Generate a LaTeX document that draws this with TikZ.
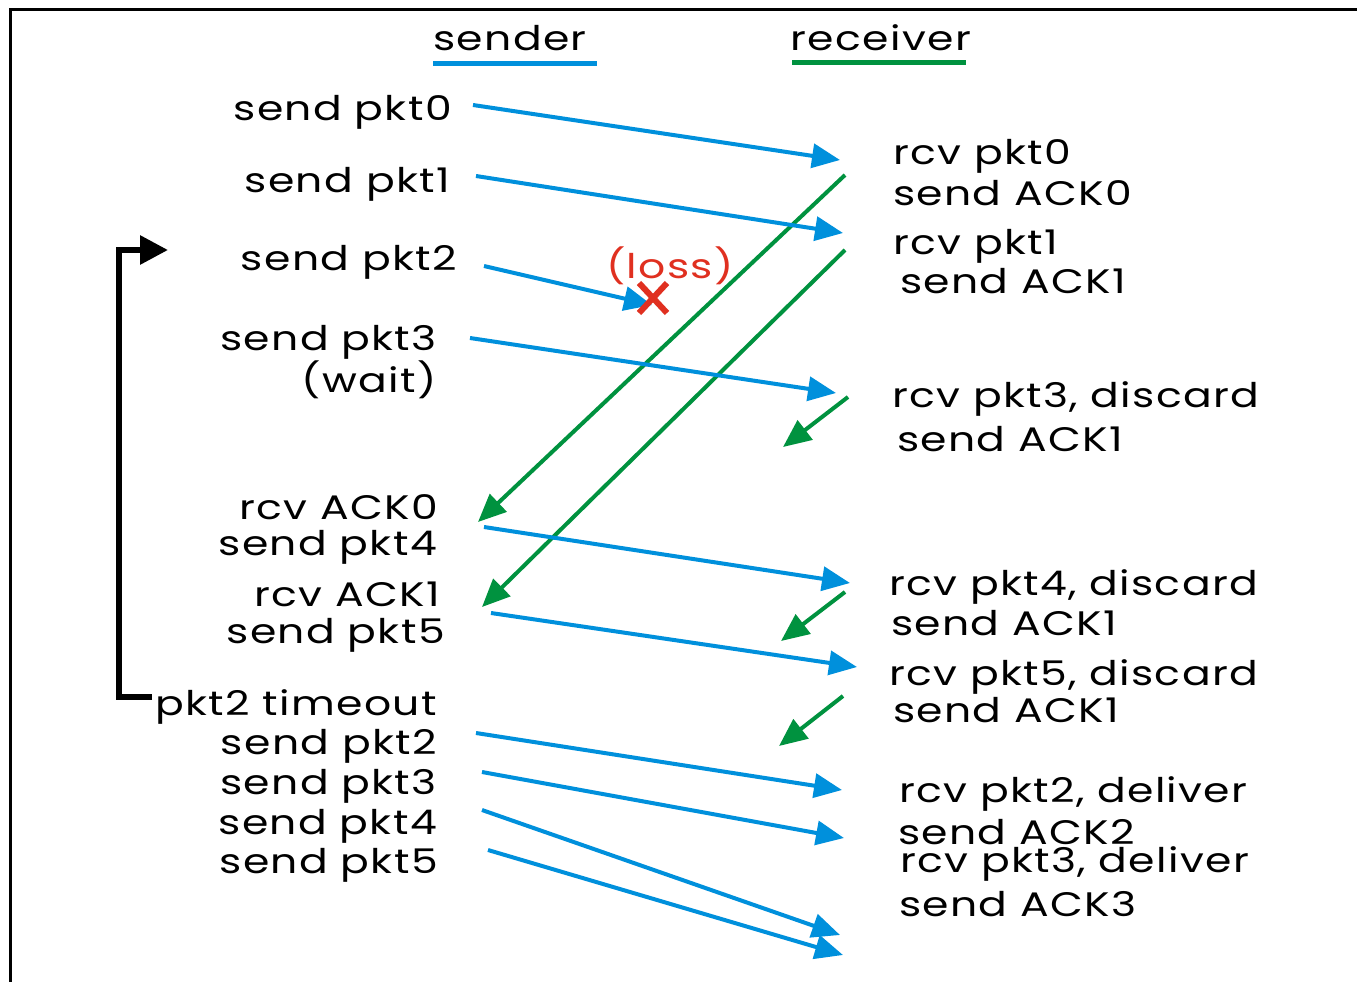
\documentclass[tikz,border=0pt]{standalone}
\usepackage{fontspec}
\setmainfont{Poppins}[FakeStretch=1.25,LetterSpace=4]
\usetikzlibrary{arrows.meta,calc}
\definecolor{sblue}{RGB}{0,144,220}
\definecolor{rgreen}{RGB}{0,146,63}
\definecolor{lred}{RGB}{224,48,32}
\begin{document}
\begin{tikzpicture}[x=1pt,y=-1pt,
  lbl/.style={inner sep=0pt,yshift=-4pt,font=\fontsize{34}{34}\selectfont},
  slbl/.style={lbl,anchor=east},
  rlbl/.style={lbl,anchor=west},
  pkt/.style={draw=sblue,line width=4pt,-{Triangle[length=28pt,width=24pt]}},
  ack/.style={draw=rgreen,line width=4pt,-{Triangle[length=28pt,width=24pt]}},
  frame/.style={draw=black,line width=3pt}]
\useasboundingbox (0,0) rectangle (1357,982);
\fill[white] (0,0) rectangle (1357,982);
\draw[frame] (10,982) -- (10,10) -- (1357,10);
% titles
\node[lbl] (sender) at (510,34) {sender};
\node[lbl] (receiver) at (881,34) {receiver};
\draw[sblue,line width=5pt] (433,64) -- (597,64);
\draw[rgreen,line width=5pt] (792,63) -- (966,63);
% sender labels
\node[slbl] (s0) at (452,108) {send pkt0};
\node[slbl] (s1) at (450,180) {send pkt1};
\node[slbl] (s2) at (457,258) {send pkt2};
\node[slbl] (s3) at (437,338) {send pkt3};
\node[slbl] (w3) at (437,376) {(wait)};
\node[slbl] (ra0) at (438,503) {rcv ACK0};
\node[slbl] (s4) at (437,543) {send pkt4};
\node[slbl] (ra1) at (440,590) {rcv ACK1};
\node[slbl] (s5) at (445,631) {send pkt5};
\node[slbl] (to) at (437,703) {pkt2 timeout};
\node[slbl] (rs2) at (437,742) {send pkt2};
\node[slbl] (rs3) at (437,782) {send pkt3};
\node[slbl] (rs4) at (437,822) {send pkt4};
\node[slbl] (rs5) at (438,861) {send pkt5};
% receiver labels
\node[rlbl] (r0) at (893,152) {rcv pkt0};
\node[rlbl] (a0) at (893,189) {send ACK0};
\node[rlbl] (r1) at (893,242) {rcv pkt1};
\node[rlbl] (a1) at (900,277) {send ACK1};
\node[rlbl] (r3) at (892,395) {rcv pkt3, discard};
\node[rlbl] (a3) at (897,435) {send ACK1};
\node[rlbl] (r4) at (889,583) {rcv pkt4, discard};
\node[rlbl] (a4) at (891,619) {send ACK1};
\node[rlbl] (r5) at (889,673) {rcv pkt5, discard};
\node[rlbl] (a5) at (893,706) {send ACK1};
\node[rlbl] (r2d) at (899,790) {rcv pkt2, deliver};
\node[rlbl] (a2d) at (898,828) {send ACK2};
\node[rlbl] (r3d) at (900,860) {rcv pkt3, deliver};
\node[rlbl] (a3d) at (899,900) {send ACK3};
% arrow endpoints
\coordinate (p0s) at (473,105); \coordinate (p0e) at (840,160);
\coordinate (p1s) at (476,176); \coordinate (p1e) at (843,233);
\coordinate (p2s) at (484,266); \coordinate (p2e) at (652,305);
\coordinate (p3s) at (470,338); \coordinate (p3e) at (836,393);
\coordinate (p4s) at (484,527); \coordinate (p4e) at (850,583);
\coordinate (p5s) at (491,613); \coordinate (p5e) at (857,667);
\coordinate (q2s) at (476,733); \coordinate (q2e) at (842,790);
\coordinate (q3s) at (482,772); \coordinate (q3e) at (844,838);
\coordinate (q4s) at (482,810); \coordinate (q4e) at (840,935);
\coordinate (q5s) at (488,850); \coordinate (q5e) at (843,955);
\coordinate (k0s) at (845,175); \coordinate (k0e) at (478,522);
\coordinate (k1s) at (845,250); \coordinate (k1e) at (482,607);
\coordinate (k3s) at (848,397); \coordinate (k3e) at (783,447);
\coordinate (k4s) at (845,592); \coordinate (k4e) at (781,641);
\coordinate (k5s) at (843,696); \coordinate (k5e) at (779,746);
% acks (drawn first)
\draw[ack] (k0s) -- (k0e);
\draw[ack] (k1s) -- (k1e);
\draw[ack] (k3s) -- (k3e);
\draw[ack] (k4s) -- (k4e);
\draw[ack] (k5s) -- (k5e);
% packets
\draw[pkt] (p0s) -- (p0e);
\draw[pkt] (p1s) -- (p1e);
\draw[pkt] (p2s) -- (p2e);
\draw[pkt] (p3s) -- (p3e);
\draw[pkt] (p4s) -- (p4e);
\draw[pkt] (p5s) -- (p5e);
\draw[pkt] (q2s) -- (q2e);
\draw[pkt] (q3s) -- (q3e);
\draw[pkt] (q4s) -- (q4e);
\draw[pkt] (q5s) -- (q5e);
% loss
\node[lbl,text=lred] (loss) at (670,262) {(loss)};
\coordinate (xc) at (653,298);
\draw[lred,line width=6pt] ($(xc)+(-14,-15)$) -- ($(xc)+(14,15)$);
\draw[lred,line width=6pt] ($(xc)+(14,-15)$) -- ($(xc)+(-14,15)$);
% timeout bracket
\coordinate (bs) at (152,697);
\coordinate (bt) at (119,697);
\coordinate (tt) at (119,250);
\coordinate (te) at (168,250);
\draw[line width=6pt,-{Triangle[length=28pt,width=28pt]}] (bs) -- (bt) -- (tt) -- (te);
\end{tikzpicture}
\end{document}
